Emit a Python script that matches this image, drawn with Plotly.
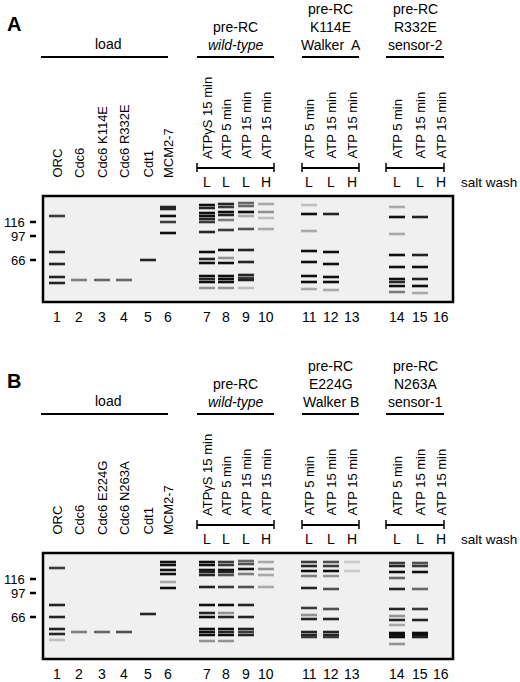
import plotly.graph_objs as go

# lane centres (px) and names
lane_x = [57, 79, 102, 124, 148, 168, 207, 226, 246, 266, 309, 331, 352, 397, 420, 441]
lane_nums = [str(i) for i in range(1, 17)]
load_names_a = ["ORC", "Cdc6", "Cdc6 K114E", "Cdc6 R332E", "Cdt1", "MCM2-7"]
load_names_b = ["ORC", "Cdc6", "Cdc6 E224G", "Cdc6 N263A", "Cdt1", "MCM2-7"]
cond_names = ["ATPγS 15 min", "ATP 5 min", "ATP 15 min", "ATP 15 min",
              "ATP 5 min", "ATP 15 min", "ATP 15 min",
              "ATP 5 min", "ATP 15 min", "ATP 15 min"]
salt = ["L", "L", "L", "H", "L", "L", "H", "L", "L", "H"]
markers = ["116", "97", "66"]
marker_off = [26, 40, 64]

# bands per lane: (offset from gel top in px, intensity 0-1)
bands_a = [
    [(20, .8), (56, .9), (68, .9), (81, .9), (87, .9)],
    [(84, .5)], [(84, .6)], [(84, .6)],
    [(64, .9)],
    [(11, .9), (13, .9), (20, 1), (26, .8), (37, 1)],
    [(9, 1), (12, .9), (17, 1), (20, 1), (23, .9), (26, .8), (36, .9), (56, 1), (63, .9), (67, 1),
     (80, 1), (83, .9), (86, 1), (92, .4)],
    [(8, .9), (11, .8), (16, 1), (19, .9), (24, .5), (34, .8), (54, 1), (62, .4), (67, 1),
     (80, 1), (83, 1), (86, 1), (92, .4)],
    [(7, .6), (10, .6), (16, 1), (20, .3), (33, .7), (54, .9), (66, .9), (79, .9), (82, .8), (84, .9), (92, .2)],
    [(8, .3), (16, .4), (22, .2), (33, .3)],
    [(9, .2), (18, 1), (35, .3), (55, 1), (66, 1), (80, 1), (86, 1), (93, .3)],
    [(18, .9), (56, 1), (68, 1), (81, 1), (86, 1), (94, .3)],
    [],
    [(11, .3), (21, 1), (38, .3), (59, 1), (71, 1), (83, 1), (86, .9), (90, 1), (96, .5)],
    [(21, .9), (59, .9), (71, 1), (83, .9), (90, 1), (97, .3)],
    [],
]
bands_b = [
    [(15, .8), (52, .9), (64, .9), (76, .9), (81, .9), (87, .2)],
    [(79, .5)], [(79, .6)], [(79, .7)],
    [(61, .9)],
    [(9, 1), (12, 1), (17, 1), (21, 1), (29, .3), (35, 1)],
    [(9, 1), (12, 1), (17, 1), (19, .9), (22, .9), (34, .9), (52, 1), (60, .9), (64, 1),
     (76, 1), (79, 1), (82, 1), (88, .4)],
    [(9, .8), (12, .8), (17, 1), (19, .9), (22, .7), (34, .8), (52, 1), (60, .4), (64, .9),
     (76, 1), (79, .9), (82, 1), (88, .4)],
    [(8, .6), (11, .7), (16, 1), (21, .5), (34, .7), (52, .9), (64, .9), (76, .9), (79, .8), (82, .9)],
    [(9, .3), (16, .4), (22, .3), (34, .3)],
    [(9, .8), (13, .9), (18, 1), (23, .5), (35, .9), (55, .8), (62, .4), (66, .9), (79, .9), (82, .9), (84, .8)],
    [(9, .7), (13, .8), (18, 1), (23, .4), (36, .7), (56, .7), (66, .9), (79, .9), (82, .9), (84, .8)],
    [(9, .15), (18, .15)],
    [(10, .8), (13, .9), (19, 1), (25, .6), (36, .9), (56, .9), (63, .4), (67, .9), (72, .3),
     (80, 1), (82, 1), (84, 1), (91, .4)],
    [(10, .7), (13, .8), (19, 1), (36, .6), (56, .8), (67, .9), (80, 1), (82, 1), (84, .9)],
    [],
]

FONT = "Liberation Sans, Arial, sans-serif"
fig = go.Figure()
shapes, ann = [], []


def txt(x, y, s, size=13, **kw):
    ann.append(dict(x=x, y=y, text=s, showarrow=False, font=dict(size=size, color="black", family=FONT), **kw))


def line(x0, y0, x1, y1, w=2):
    shapes.append(dict(type="line", x0=x0, y0=y0, x1=x1, y1=y1, line=dict(color="black", width=w)))


def panel(dy, letter, bands, load_names, titles):
    gtop, gbot = 196 + dy, 302 + dy
    txt(14, 24 + dy, "<b>%s</b>" % letter, size=20)
    # group headers
    line(41, 57 + dy, 168, 57 + dy)
    txt(108, 44 + dy, "load", size=14)
    for (x0, x1), rows in zip([(197, 274), (302, 359), (386, 444)], titles):
        line(x0, 57 + dy, x1, 57 + dy)
        for i, r in enumerate(reversed(rows)):
            txt((x0 + x1) / 2, 45 - 18 * i + dy, r, size=14)
        line(x0, 168 + dy, x1, 168 + dy)
        line(x0, 163 + dy, x0, 172 + dy, 1.5)
        line(x1, 163 + dy, x1, 172 + dy, 1.5)
    for i, s in enumerate(load_names):
        txt(lane_x[i], 180 + dy, s, textangle=-90, yanchor="bottom")
    for j, s in enumerate(cond_names):
        txt(lane_x[6 + j], 161 + dy, s, textangle=-90, yanchor="bottom")
        txt(lane_x[6 + j], 182 + dy, salt[j], size=14)
    txt(519, 182 + dy, "salt wash", size=13.5, xanchor="right")
    # gel box
    shapes.append(dict(type="rect", x0=43, y0=gtop, x1=453, y1=gbot, layer="below",
                       fillcolor="#f0f0f0", line=dict(color="black", width=2.5)))
    for m, o in zip(markers, marker_off):
        line(30, gtop + o, 36, gtop + o, 2.5)
        txt(27, gtop + o, m, xanchor="right", size=13)
    for lx, n in zip(lane_x, lane_nums):
        txt(lx, 317 + dy, n, size=14)
    # bands
    for lx, lane in zip(lane_x, bands):
        for o, v in lane:
            g = int(235 - 220 * v)
            fig.add_trace(go.Scatter(x=[lx - 8, lx + 8], y=[gtop + o, gtop + o], mode="lines",
                                     line=dict(color="rgb(%d,%d,%d)" % (g, g, g), width=2.6),
                                     showlegend=False, hoverinfo="skip"))


panel(0, "A", bands_a, load_names_a,
      [["pre-RC", "<i>wild-type</i>"], ["pre-RC", "K114E", "Walker  A"], ["pre-RC", "R332E", "sensor-2"]])
panel(357, "B", bands_b, load_names_b,
      [["pre-RC", "<i>wild-type</i>"], ["pre-RC", "E224G", "Walker B"], ["pre-RC", "N263A", "sensor-1"]])

fig.update_layout(
    width=520, height=682, margin=dict(l=0, r=0, t=0, b=0),
    paper_bgcolor="white", plot_bgcolor="white",
    xaxis=dict(range=[0, 520], visible=False),
    yaxis=dict(range=[682, 0], visible=False),
    shapes=shapes, annotations=ann,
)
# drop the page's default body margin so the figure sits at the top-left corner
fig.write_html("out.html", config={"displayModeBar": False},
               post_script="document.body.style.margin='0';document.body.style.overflow='hidden';")
